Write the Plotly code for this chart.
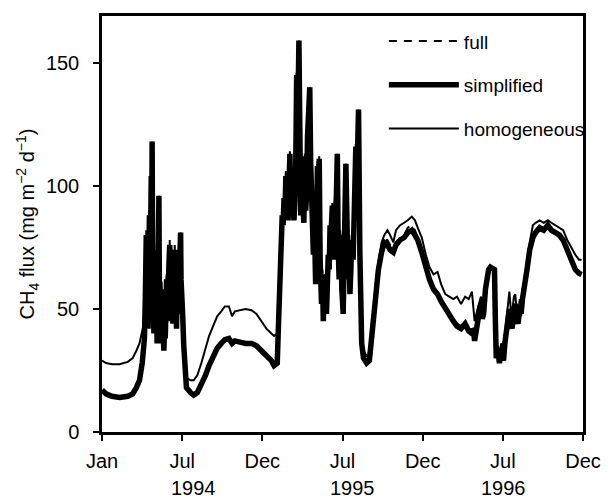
import plotly.graph_objects as go

# ---- data (x = day since 1 Jan 1994) ----
# winter/spring 1994
days_a = [0, 9, 22, 39, 57, 68, 76, 83, 89]
simp_a = [17, 15.5, 14.5, 14, 14.5, 15.5, 18, 21, 28]
full_a = [17, 15.5, 14.5, 14, 14.5, 15.5, 18, 21, 28]
homo_a = [29, 28, 27.5, 27.5, 28.5, 30, 33, 36, 41]

# spring 1994 peaks
days_b = [94, 96, 98, 99, 100, 102, 103, 105, 106, 107, 108, 109, 110, 111, 112, 113, 114, 115, 116, 118,
          119, 120, 121, 122, 123, 124, 125, 126, 127, 129, 130, 131, 132, 133, 135, 137, 139, 140, 142, 143,
          145, 146, 147, 148, 149, 150, 151, 152, 153, 155, 156, 157, 158, 159, 160, 161, 162, 163, 165, 166,
          168, 170, 171, 172, 173, 174, 175, 176, 177, 179, 181, 183]
simp_b = [38, 55, 80, 50, 60, 42, 75, 88, 48, 58, 85, 104, 70, 118, 75, 58, 45, 40, 62, 72,
          50, 44, 60, 36, 52, 66, 80, 96, 60, 50, 36, 42, 58, 50, 40, 33, 48, 38, 52, 62,
          48, 70, 55, 50, 72, 76, 52, 45, 66, 72, 50, 44, 58, 62, 48, 74, 68, 52, 42, 55,
          48, 56, 66, 72, 60, 81, 62, 52, 60, 46, 35, 24]
full_b = [38, 56, 78, 51, 61, 43, 74, 86, 49, 59, 84, 102, 71, 116, 76, 59, 46, 41, 61, 70,
          51, 45, 59, 37, 53, 65, 79, 94, 61, 51, 37, 43, 57, 51, 41, 34, 47, 39, 51, 61,
          49, 69, 56, 51, 71, 75, 53, 46, 65, 71, 51, 45, 57, 61, 49, 73, 67, 53, 43, 54,
          49, 55, 65, 71, 61, 80, 63, 53, 59, 47, 36, 25]
homo_b = [45, 58, 82, 54, 63, 46, 77, 90, 52, 61, 87, 106, 73, 118, 78, 61, 49, 44, 65, 74,
          54, 47, 63, 40, 55, 68, 82, 96, 63, 53, 40, 45, 61, 53, 43, 37, 51, 41, 55, 64,
          51, 72, 58, 53, 74, 78, 55, 48, 68, 74, 53, 47, 61, 64, 51, 76, 70, 55, 46, 58,
          51, 58, 68, 74, 63, 81, 65, 55, 62, 50, 40, 28]

# summer/autumn 1994
days_c = [187, 196, 203, 211, 220, 229, 237, 246, 255, 264, 272, 281, 288, 294, 305, 318, 331, 342, 353, 364, 375, 381]
simp_c = [18, 16, 15, 16, 19, 23, 27, 31, 34, 36, 37.5, 38, 36, 37, 36.5, 36, 36, 35, 33, 31, 29, 27]
full_c = [19, 16.5, 15.5, 16.5, 19.5, 23, 27, 31, 34, 36, 37.5, 38, 36, 37, 36.5, 36, 36, 35, 33, 31, 29, 27]
homo_c = [22, 21, 21, 23, 28, 34, 39, 43, 47, 49, 51, 51, 47, 49, 49.5, 50, 49.5, 48, 45, 42, 40, 39]

# first half 1995
days_d = [388, 391, 394, 397, 399, 401, 403, 405, 407, 409, 412, 414, 416, 418, 420, 422, 425, 427, 429, 431,
          433, 436, 438, 440, 442, 444, 447, 449, 451, 453, 455, 457, 460, 462, 464, 466, 468, 470, 473, 475,
          477, 479, 481, 483, 486, 488, 490, 492, 494, 497, 499, 501, 503, 505, 507, 510, 512, 514, 516, 519,
          521, 523, 525, 527, 529, 531, 534, 536, 538, 540, 543, 545, 547, 549, 551, 553, 556, 558, 560, 562,
          564, 566, 568, 571, 573, 575]
simp_d = [28, 45, 62, 78, 88, 84, 95, 88, 104, 92, 86, 100, 113, 96, 88, 98, 86, 94, 108, 145,
          120, 159, 112, 88, 100, 92, 85, 112, 90, 96, 120, 134, 140, 110, 96, 82, 72, 88, 60, 84,
          108, 78, 111, 70, 52, 64, 45, 58, 62, 48, 55, 72, 66, 84, 80, 92, 70, 88, 86, 96,
          113, 75, 62, 80, 76, 58, 48, 70, 105, 109, 80, 62, 72, 56, 66, 78, 70, 96, 88, 116,
          100, 126, 131, 72, 50, 36]
full_d = [28, 46, 62, 77, 87, 85, 94, 89, 102, 93, 87, 99, 110, 97, 89, 97, 87, 93, 106, 142,
          122, 156, 113, 89, 99, 93, 86, 110, 91, 95, 118, 131, 138, 111, 97, 83, 73, 87, 61, 83,
          106, 79, 109, 71, 53, 63, 46, 57, 61, 49, 56, 71, 65, 83, 81, 90, 71, 87, 87, 94,
          110, 76, 63, 79, 77, 59, 49, 69, 103, 107, 81, 63, 71, 57, 65, 77, 71, 95, 89, 114,
          101, 124, 129, 73, 51, 37]
homo_d = [40, 50, 65, 80, 90, 86, 97, 90, 106, 94, 88, 102, 114, 98, 90, 100, 88, 96, 110, 146,
          122, 159, 114, 90, 102, 94, 87, 113, 92, 98, 121, 135, 140, 112, 98, 84, 74, 90, 63, 86,
          110, 80, 112, 72, 55, 66, 48, 60, 64, 51, 57, 74, 68, 86, 82, 93, 72, 90, 88, 97,
          113, 77, 65, 82, 78, 61, 51, 72, 106, 109, 82, 65, 74, 59, 68, 80, 72, 98, 90, 117,
          102, 127, 131, 75, 53, 39]

# summer 1995 - winter 1995/96
days_e = [579, 586, 592, 599, 605, 612, 619, 625, 632, 638, 645, 651, 660, 669, 677, 686, 693, 699, 708, 717,
          725, 734, 743, 751, 760, 769, 778, 786, 795, 804, 812]
simp_e = [30, 28, 29, 41, 55, 66, 73, 77, 76, 74, 73, 76, 78, 79, 81, 82, 80, 78, 73, 67,
          62, 58, 56, 53, 50, 47, 45, 43, 42, 44, 41]
full_e = [31, 29, 30, 42, 56, 67, 74, 78, 78, 76, 75, 77, 79, 80, 83, 84, 82, 79, 74, 68,
          63, 59, 57, 54, 51, 48, 46, 44, 43, 45, 42]
homo_e = [33, 31, 32, 44, 58, 69, 77, 80, 82, 80, 77, 82, 84, 85, 86, 87.5, 86, 83, 79, 72,
          67, 64, 65, 60, 56, 55, 54, 55, 52, 55, 54]

# spring/summer 1996
days_f = [819, 822, 825, 829, 832, 836, 839, 842, 845, 849, 852, 856, 860, 865, 869, 871, 873, 877, 880, 884,
          889, 892, 895, 899, 902, 905, 908, 912, 915, 918, 921, 925, 928, 931, 934, 938, 941]
simp_f = [40, 42, 37, 44, 45, 50, 52, 46, 48, 58, 62, 66, 67, 66, 66, 45, 30, 32, 28, 33,
          29, 36, 40, 46, 50, 44, 42, 50, 52, 46, 44, 50, 48, 54, 57, 62, 66]
full_f = [41, 43, 38, 45, 46, 49, 53, 47, 49, 57, 61, 65, 66, 65, 65, 46, 31, 33, 29, 34,
          30, 37, 41, 45, 49, 45, 43, 49, 51, 47, 45, 49, 47, 53, 56, 61, 65]
homo_f = [57, 52, 45, 48, 50, 53, 55, 50, 52, 60, 63, 66, 67, 66, 66, 48, 33, 35, 31, 36,
          33, 40, 45, 52, 57, 50, 48, 55, 56, 50, 48, 54, 52, 58, 60, 65, 68]

# autumn 1996
days_g = [947, 954, 960, 969, 978, 987, 995, 1004, 1013, 1021, 1030, 1039, 1048, 1056, 1062]
simp_g = [74, 79, 81, 83, 82, 84, 82, 81, 80, 78, 74, 70, 66, 64.5, 64]
full_g = [73, 79, 80, 82, 81, 83, 81, 80, 79, 77, 73, 69, 66, 65, 65]
homo_g = [77, 84, 85, 86, 85, 86, 85, 84, 83, 82, 78, 75, 72, 70, 70]

days = days_a + days_b + days_c + days_d + days_e + days_f + days_g
simplified = simp_a + simp_b + simp_c + simp_d + simp_e + simp_f + simp_g
full = full_a + full_b + full_c + full_d + full_e + full_f + full_g
homogeneous = homo_a + homo_b + homo_c + homo_d + homo_e + homo_f + homo_g

tick_days = [0, 177.5, 355, 532.5, 710, 887.5, 1065]
tick_text = ["Jan", "Jul", "Dec", "Jul", "Dec", "Jul", "Dec"]
year_labels = ["1994", "1995", "1996"]
year_days = [203, 555, 889]

font = "Liberation Sans, Arial, Helvetica, sans-serif"

fig = go.Figure()
fig.add_trace(go.Scatter(x=days, y=full, mode="lines", name="full", legendgroup="a",
                         line=dict(color="black", width=2, dash="8px,7px")))
fig.add_trace(go.Scatter(x=days, y=simplified, mode="lines", name="simplified", legendgroup="b",
                         line=dict(color="black", width=5.5)))
fig.add_trace(go.Scatter(x=days, y=homogeneous, mode="lines", name="homogeneous", legendgroup="c",
                         line=dict(color="black", width=2)))

for yl, yd in zip(year_labels, year_days):
    fig.add_annotation(x=yd, y=-0.135, xref="x", yref="paper", text=yl, showarrow=False,
                       font=dict(size=20, color="black", family=font), yanchor="middle")

fig.update_layout(
    width=613, height=498,
    margin=dict(l=102, r=22, t=16, b=66),
    paper_bgcolor="white", plot_bgcolor="white",
    font=dict(family=font, size=20, color="black"),
    showlegend=True,
    legend=dict(x=0.586, y=0.985, xanchor="left", yanchor="top", bgcolor="rgba(0,0,0,0)",
                font=dict(size=19), tracegroupgap=16, itemwidth=70),
    xaxis=dict(range=[0, 1065], tickmode="array", tickvals=tick_days, ticktext=tick_text,
               showline=True, linecolor="black", linewidth=2.5, mirror=True,
               ticks="outside", ticklen=6, tickwidth=2, tickcolor="black",
               showgrid=False, zeroline=False, ticklabelstandoff=3),
    yaxis=dict(range=[0, 169], tickvals=[0, 50, 100, 150],
               showline=True, linecolor="black", linewidth=2.5, mirror=True,
               ticks="outside", ticklen=6, tickwidth=2, tickcolor="black",
               showgrid=False, zeroline=False, ticklabelstandoff=10,
               title=dict(text="CH<sub>4</sub> flux (mg m<sup>−2</sup> d<sup>−1</sup>)",
                          font=dict(size=20), standoff=6)),
)

fig.write_html("out.html")
